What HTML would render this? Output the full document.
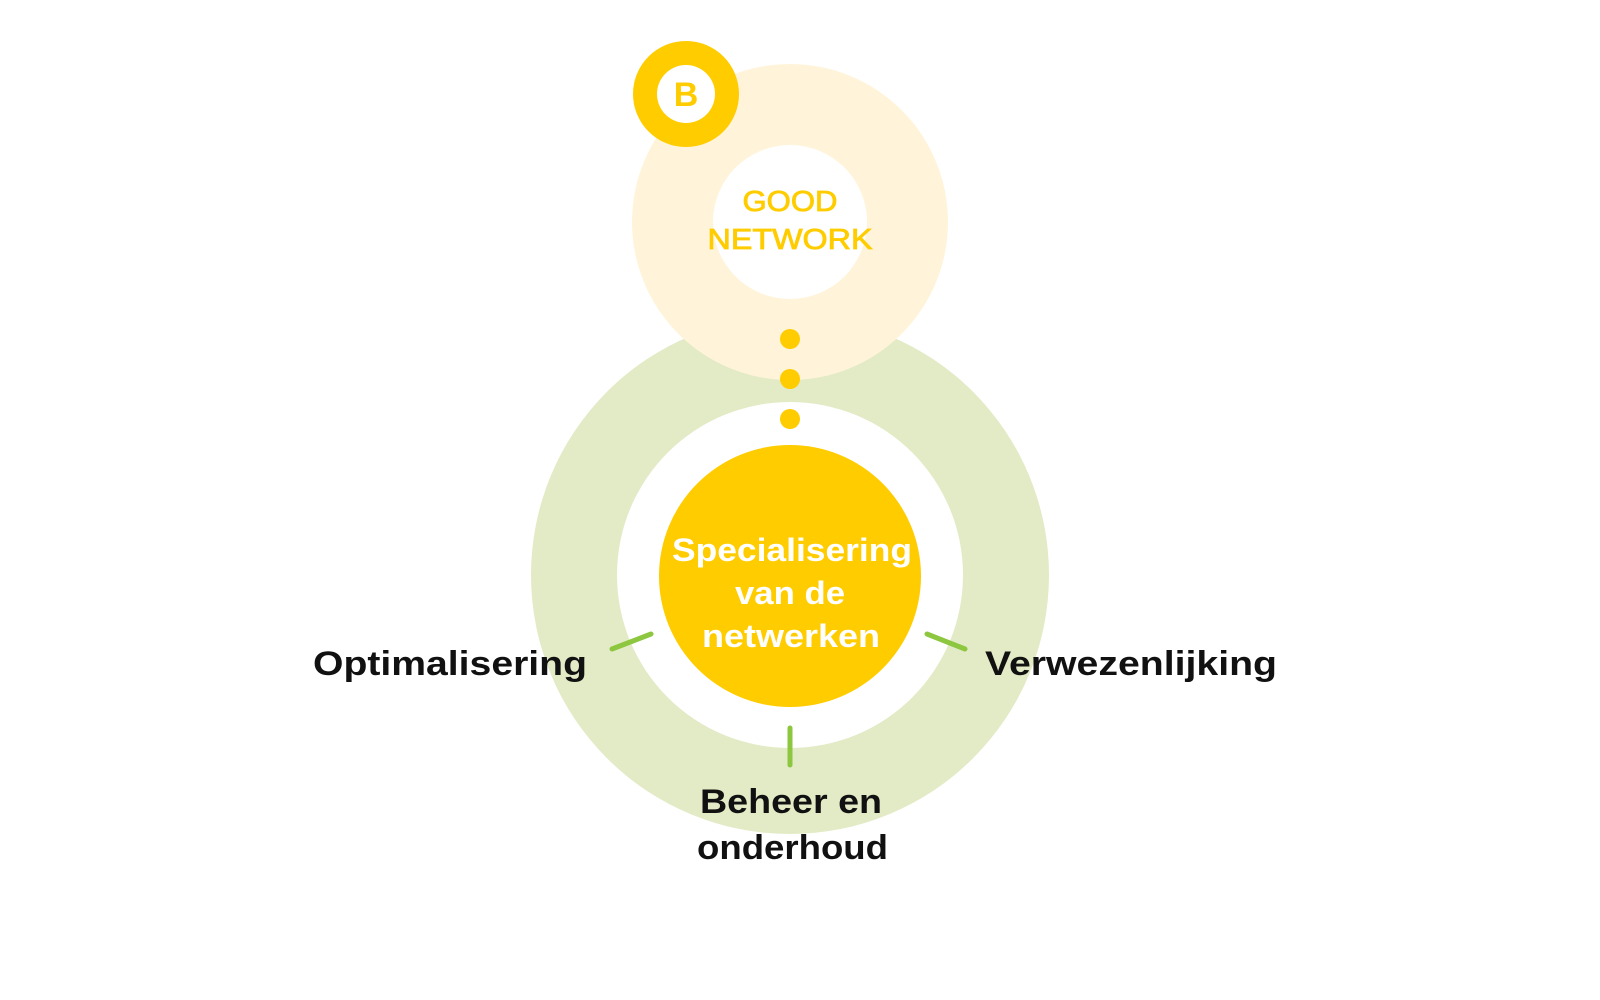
<!DOCTYPE html>
<html><head><meta charset="utf-8"><style>html,body{margin:0;padding:0;background:#fff}svg{display:block}</style></head>
<body>
<svg width="1600" height="1000" viewBox="0 0 1600 1000" xmlns="http://www.w3.org/2000/svg">
<rect width="1600" height="1000" fill="#fff"/>
<circle cx="790" cy="575" r="259" fill="#E2EBC5"/>
<circle cx="790" cy="575" r="173" fill="#fff"/>
<circle cx="790" cy="222" r="158" fill="#FFF4D9"/>
<circle cx="790" cy="222" r="77" fill="#fff"/>
<circle cx="686" cy="94" r="53" fill="#FFCC00"/>
<circle cx="686" cy="94" r="29" fill="#fff"/>
<text x="686" y="106" font-family="Liberation Sans, sans-serif" font-weight="bold" font-size="34" fill="#FFCC00" text-anchor="middle">B</text>
<circle cx="790" cy="339" r="10" fill="#FFCC00"/>
<circle cx="790" cy="379" r="10" fill="#FFCC00"/>
<circle cx="790" cy="419" r="10" fill="#FFCC00"/>
<circle cx="790" cy="576" r="131" fill="#FFCC00"/>
<g stroke="#8DC63F" stroke-width="5" stroke-linecap="round">
<line x1="612" y1="649" x2="651" y2="634"/>
<line x1="927" y1="634" x2="965" y2="649"/>
<line x1="790" y1="728" x2="790" y2="765"/>
</g>
<g font-family="Liberation Sans, sans-serif" font-size="29" fill="#FFCC00" stroke="#FFCC00" stroke-width="0.8" text-anchor="middle">
<text x="790" y="211" textLength="95" lengthAdjust="spacingAndGlyphs">GOOD</text>
<text x="790" y="249" textLength="165" lengthAdjust="spacingAndGlyphs">NETWORK</text>
</g>
<g font-family="Liberation Sans, sans-serif" font-weight="bold" font-size="32" fill="#fff" text-anchor="middle">
<text x="792" y="561" textLength="240" lengthAdjust="spacingAndGlyphs">Specialisering</text>
<text x="790" y="604" textLength="110" lengthAdjust="spacingAndGlyphs">van de</text>
<text x="791" y="647" textLength="178" lengthAdjust="spacingAndGlyphs">netwerken</text>
</g>
<g font-family="Liberation Sans, sans-serif" font-weight="bold" font-size="34" fill="#111">
<text x="313" y="675" textLength="274" lengthAdjust="spacingAndGlyphs">Optimalisering</text>
<text x="985" y="675" textLength="292" lengthAdjust="spacingAndGlyphs">Verwezenlijking</text>
<text x="700" y="813" textLength="182" lengthAdjust="spacingAndGlyphs">Beheer en</text>
<text x="697" y="859" textLength="191" lengthAdjust="spacingAndGlyphs">onderhoud</text>
</g>
</svg>
</body></html>
